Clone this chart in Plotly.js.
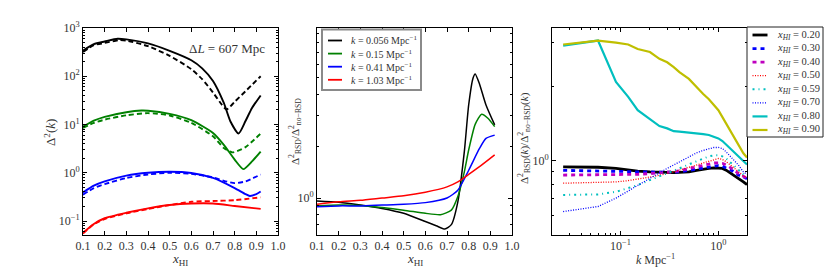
<!DOCTYPE html>
<html>
<head>
<meta charset="utf-8">
<script src="https://cdn.plot.ly/plotly-3.0.1.min.js"></script>
<style>html,body{margin:0;padding:0;background:#fff;}#chart{width:830px;height:277px;}</style>
</head>
<body>
<div id="chart"></div>
<script>
// ---------- Panel 1: Delta^2(k) vs x_HI ----------
const p1_black_solid_x = [0.1,0.15,0.2,0.26,0.3,0.4,0.5,0.6,0.65,0.7,0.75,0.78,0.818,0.85,0.88,0.92];
const p1_black_solid_y = [340,464,525,600,580,480,337,215,146,80,28,11.7,6.5,11.8,22,40];
const p1_black_dash_x = [0.1,0.15,0.2,0.27,0.3,0.4,0.5,0.6,0.65,0.7,0.74,0.763,0.8,0.85,0.92];
const p1_black_dash_y = [320,440,490,562,550,420,265,140,87,46,26,20.5,29.5,49,100];
const p1_green_solid_x = [0.1,0.15,0.2,0.3,0.37,0.4,0.5,0.6,0.7,0.75,0.8,0.84,0.88,0.92];
const p1_green_solid_y = [9.0,12.0,14.4,18,19.5,19.3,16.6,12.3,6.7,3.8,1.87,1.19,1.72,2.75];
const p1_green_dash_x = [0.1,0.15,0.2,0.3,0.4,0.5,0.6,0.7,0.75,0.79,0.85,0.92];
const p1_green_dash_y = [8.5,10.8,12.6,15.5,17.2,15.4,10.8,5.7,3.25,2.65,3.4,6.5];
const p1_blue_solid_x = [0.1,0.15,0.2,0.3,0.4,0.5,0.6,0.7,0.8,0.85,0.87,0.9,0.92];
const p1_blue_solid_y = [0.39,0.54,0.66,0.87,1.0,1.05,0.99,0.78,0.48,0.36,0.33,0.36,0.41];
const p1_blue_dash_x = [0.1,0.15,0.2,0.3,0.4,0.5,0.6,0.7,0.75,0.8,0.85,0.92];
const p1_blue_dash_y = [0.35,0.48,0.58,0.78,0.92,1.0,0.95,0.8,0.68,0.61,0.66,0.92];
const p1_red_solid_x = [0.1,0.15,0.2,0.3,0.4,0.5,0.6,0.7,0.8,0.92];
const p1_red_solid_y = [0.057,0.087,0.114,0.148,0.183,0.214,0.23,0.23,0.205,0.178];
const p1_red_dash_x = [0.1,0.15,0.2,0.3,0.4,0.5,0.6,0.7,0.8,0.92];
const p1_red_dash_y = [0.055,0.085,0.11,0.144,0.178,0.214,0.25,0.26,0.27,0.31];

// ---------- Panel 2: ratio vs x_HI ----------
const p2_labels = ["0.056","0.15","0.41","1.03"];
const p2_black_x = [0.1,0.2,0.3,0.4,0.5,0.6,0.65,0.69,0.72,0.75,0.78,0.8,0.82,0.83,0.85,0.88,0.92];
const p2_black_y = [0.96,0.944,0.91,0.87,0.815,0.73,0.69,0.66,0.70,0.95,1.86,3.47,4.97,5.26,4.6,3.47,2.66];
const p2_green_x = [0.1,0.2,0.3,0.4,0.5,0.6,0.67,0.72,0.75,0.78,0.8,0.83,0.86,0.89,0.92];
const p2_green_y = [0.90,0.91,0.906,0.88,0.85,0.815,0.80,0.85,1.02,1.42,1.9,2.68,3.07,2.9,2.6];
const p2_blue_x = [0.1,0.2,0.3,0.4,0.5,0.6,0.7,0.75,0.8,0.85,0.88,0.92];
const p2_blue_y = [0.89,0.90,0.90,0.91,0.92,0.94,1.0,1.11,1.45,1.94,2.22,2.32];
const p2_red_x = [0.1,0.2,0.3,0.4,0.5,0.6,0.7,0.75,0.8,0.85,0.92];
const p2_red_y = [0.92,0.95,0.97,1.0,1.03,1.08,1.16,1.24,1.37,1.52,1.78];

// ---------- Panel 3: ratio vs k ----------
const p3_k = [0.026,0.059,0.09,0.12,0.15,0.2,0.25,0.3,0.35,0.4,0.5,0.6,0.7,0.8,0.9,1.0,1.1,1.2,1.4,1.6,1.8,1.96];
const p3_labels = ["0.20","0.30","0.40","0.50","0.59","0.70","0.80","0.90"];
const p3_x020 = [0.944,0.94,0.93,0.915,0.907,0.9,0.896,0.893,0.894,0.896,0.9,0.913,0.925,0.93,0.935,0.935,0.93,0.915,0.88,0.848,0.82,0.80];
const p3_x030 = [0.913,0.91,0.907,0.903,0.9,0.898,0.897,0.896,0.898,0.9,0.913,0.925,0.935,0.947,0.953,0.955,0.95,0.935,0.907,0.874,0.855,0.845];
const p3_x040 = [0.874,0.874,0.877,0.879,0.88,0.886,0.891,0.896,0.903,0.91,0.93,0.944,0.96,0.97,0.978,0.98,0.975,0.96,0.925,0.886,0.86,0.848];
const p3_x050 = [0.81,0.817,0.82,0.83,0.84,0.858,0.872,0.886,0.9,0.915,0.94,0.96,0.98,1.0,1.01,1.02,1.01,0.99,0.944,0.9,0.867,0.855];
const p3_x059 = [0.726,0.73,0.748,0.773,0.796,0.834,0.862,0.886,0.91,0.93,0.965,0.995,1.02,1.04,1.05,1.05,1.04,1.02,0.965,0.915,0.88,0.87];
const p3_x070 = [0.622,0.652,0.705,0.755,0.796,0.853,0.893,0.93,0.96,0.99,1.035,1.075,1.1,1.12,1.13,1.13,1.12,1.085,1.02,0.96,0.9,0.88];
const p3_x080 = [2.92,3.06,2.08,1.81,1.6,1.47,1.38,1.35,1.315,1.31,1.3,1.29,1.28,1.27,1.25,1.23,1.2,1.16,1.1,1.045,0.995,0.965];
const p3_x090 = [2.95,3.06,3.0,2.95,2.83,2.75,2.58,2.5,2.39,2.28,2.14,1.98,1.86,1.77,1.67,1.6,1.5,1.41,1.27,1.155,1.07,1.03];

const FONT = "Liberation Serif, DejaVu Serif, serif";
const W = 830, H = 277;
const yDom = [1 - 235/H, 1 - 28/H];
const px = v => v / W, py = v => 1 - v / H;

const traces = [];
function p1(x, y, color, dash) {
  traces.push({x: x, y: y, xaxis: 'x', yaxis: 'y', mode: 'lines', showlegend: false,
    line: {color: color, width: 1.9, dash: dash, shape: 'spline', smoothing: 0.6}});
}
p1(p1_black_solid_x, p1_black_solid_y, '#000000', 'solid');
p1(p1_black_dash_x, p1_black_dash_y, '#000000', '5px,3px');
p1(p1_green_solid_x, p1_green_solid_y, '#008000', 'solid');
p1(p1_green_dash_x, p1_green_dash_y, '#008000', '5px,3px');
p1(p1_blue_solid_x, p1_blue_solid_y, '#0000ff', 'solid');
p1(p1_blue_dash_x, p1_blue_dash_y, '#0000ff', '5px,3px');
p1(p1_red_solid_x, p1_red_solid_y, '#ff0000', 'solid');
p1(p1_red_dash_x, p1_red_dash_y, '#ff0000', '5px,3px');

const p2x = [p2_black_x, p2_green_x, p2_blue_x, p2_red_x];
const p2y = [p2_black_y, p2_green_y, p2_blue_y, p2_red_y];
const p2c = ['#000000', '#008000', '#0000ff', '#ff0000'];
for (let i = 0; i < 4; i++) {
  traces.push({x: p2x[i], y: p2y[i], xaxis: 'x2', yaxis: 'y2', mode: 'lines', showlegend: false,
    name: '<i>k</i> = ' + p2_labels[i] + ' Mpc<sup>−1</sup>',
    line: {color: p2c[i], width: 1.5, shape: 'spline', smoothing: 0.6}});
}

const p3y = [p3_x020, p3_x030, p3_x040, p3_x050, p3_x059, p3_x070, p3_x080, p3_x090];
const p3c = ['#000000', '#0000ff', '#bf00bf', '#ff0000', '#00bfbf', '#0000ff', '#00bfbf', '#bfbf00'];
const p3d = ['solid', '4px,4px', '4px,4px', '1px,1.5px', '2px,4px,1px,4px', '1px,1.5px', 'solid', 'solid'];
const p3w = [2.8, 2.8, 2.8, 1.3, 2.0, 1.3, 2.2, 2.2];
for (let i = 0; i < 8; i++) {
  traces.push({x: p3_k, y: p3y[i], xaxis: 'x3', yaxis: 'y3', mode: 'lines', showlegend: false,
    name: '<i>x</i><sub><i>HI</i></sub> = ' + p3_labels[i],
    line: {color: p3c[i], width: p3w[i], dash: p3d[i]}});
}

const tickfont = {family: FONT, size: 12, color: '#333'};
function xlin(dom, anchor) {
  return {domain: dom, anchor: anchor, range: [0.1, 1.0], tickvals: [0.1,0.2,0.3,0.4,0.5,0.6,0.7,0.8,0.9,1.0],
    ticktext: ['0.1','0.2','0.3','0.4','0.5','0.6','0.7','0.8','0.9','1.0'],
    ticks: 'inside', ticklen: 4, tickcolor: '#000', mirror: 'allticks', showline: true, linecolor: '#000', linewidth: 1,
    showgrid: false, zeroline: false, tickfont: tickfont, ticklabelstandoff: 0};
}
function ylog(range, anchor, tickvals, ticktext) {
  return {domain: yDom, anchor: anchor, type: 'log', range: range, tickvals: tickvals, ticktext: ticktext,
    ticks: 'inside', ticklen: 4, tickcolor: '#000', mirror: 'allticks', showline: true, linecolor: '#000', linewidth: 1,
    showgrid: false, zeroline: false, tickfont: tickfont,
    minor: {ticks: 'inside', ticklen: 2, tickcolor: '#000', showgrid: false, dtick: 'D1'}};
}

// ---- legends drawn as boxes + line samples + text ----
const shapes = [];
const annotations = [];
function legendBox(x0, y0, x1, y1, color, width) {
  shapes.push({type: 'rect', xref: 'paper', yref: 'paper', x0: px(x0), x1: px(x1), y0: py(y1), y1: py(y0),
    fillcolor: '#ffffff', line: {color: color, width: width}, layer: 'above'});
}
function legendItem(xs0, xs1, xt, y, color, width, dash, text, size) {
  shapes.push({type: 'line', xref: 'paper', yref: 'paper', x0: px(xs0), x1: px(xs1), y0: py(y), y1: py(y),
    line: {color: color, width: width, dash: dash}, layer: 'above'});
  annotations.push({xref: 'paper', yref: 'paper', x: px(xt), y: py(y), xanchor: 'left', yanchor: 'middle',
    text: text, showarrow: false, font: {family: FONT, size: size, color: '#333'}});
}
legendBox(322, 29.5, 421, 90, '#8a8a8a', 2);
for (let i = 0; i < 4; i++) {
  legendItem(328, 342, 349, 40.5 + i * 13.1, p2c[i], 1.8, 'solid', '<i>k</i> = ' + p2_labels[i] + ' Mpc<sup>−1</sup>', 10);
}
legendBox(747, 27, 823, 137, '#222', 1);
for (let i = 0; i < 8; i++) {
  legendItem(752.5, 767.5, 775, 35 + i * 13.57, p3c[i], p3w[i], p3d[i], '<i>x</i><sub><i>HI</i></sub> = ' + p3_labels[i], 10.5);
}

function label(x, y, text, size, angle) {
  annotations.push({xref: 'paper', yref: 'paper', x: px(x), y: py(y), xanchor: 'center', yanchor: 'middle',
    text: text, textangle: angle || 0, showarrow: false, font: {family: FONT, size: size, color: '#333'}});
}
label(180, 259, '<i>x</i><sub>HI</sub>', 13);
label(415, 259, '<i>x</i><sub>HI</sub>', 13);
label(655, 259, '<i>k</i> Mpc<sup>−1</sup>', 12);
label(50, 133, 'Δ<sup>2</sup>(<i>k</i>)', 13, -90);
label(295, 132, 'Δ<sup>2</sup><sub>RSD</sub>/Δ<sup>2</sup><sub>no−RSD</sub>', 11, -90);
label(524, 138, 'Δ<sup>2</sup><sub>RSD</sub>(<i>k</i>)/Δ<sup>2</sup><sub>no−RSD</sub>(<i>k</i>)', 11, -90);
label(227, 49, 'Δ<i>L</i> = 607 Mpc', 13);

const layout = {
  width: W, height: H, margin: {l: 0, r: 0, t: 0, b: 0},
  paper_bgcolor: '#fff', plot_bgcolor: '#fff', showlegend: false,
  font: {family: FONT, color: '#333'},
  xaxis: xlin([83/W, 278/W], 'y'),
  yaxis: ylog([-1.29, 3], 'x', [0.1, 1, 10, 100, 1000], ['10<sup>−1</sup>','10<sup>0</sup>','10<sup>1</sup>','10<sup>2</sup>','10<sup>3</sup>']),
  xaxis2: xlin([317/W, 512/W], 'y2'),
  yaxis2: ylog([-0.215, 0.988], 'x2', [1], ['10<sup>0</sup>']),
  xaxis3: {domain: [552/W, 747/W], anchor: 'y3', type: 'log', range: [Math.log10(0.02), Math.log10(1.96)],
    tickvals: [0.1, 1], ticktext: ['10<sup>−1</sup>','10<sup>0</sup>'],
    ticks: 'inside', ticklen: 4, tickcolor: '#000', mirror: 'allticks', showline: true, linecolor: '#000', linewidth: 1,
    showgrid: false, zeroline: false, tickfont: tickfont, ticklabelstandoff: 0,
    minor: {ticks: 'inside', ticklen: 2, tickcolor: '#000', showgrid: false, dtick: 'D1'}},
  yaxis3: ylog([Math.log10(0.5), Math.log10(3.44)], 'x3', [1], ['10<sup>0</sup>']),
  shapes: shapes,
  annotations: annotations
};

Plotly.newPlot('chart', traces, layout, {staticPlot: true, displayModeBar: false});
</script>
</body>
</html>
